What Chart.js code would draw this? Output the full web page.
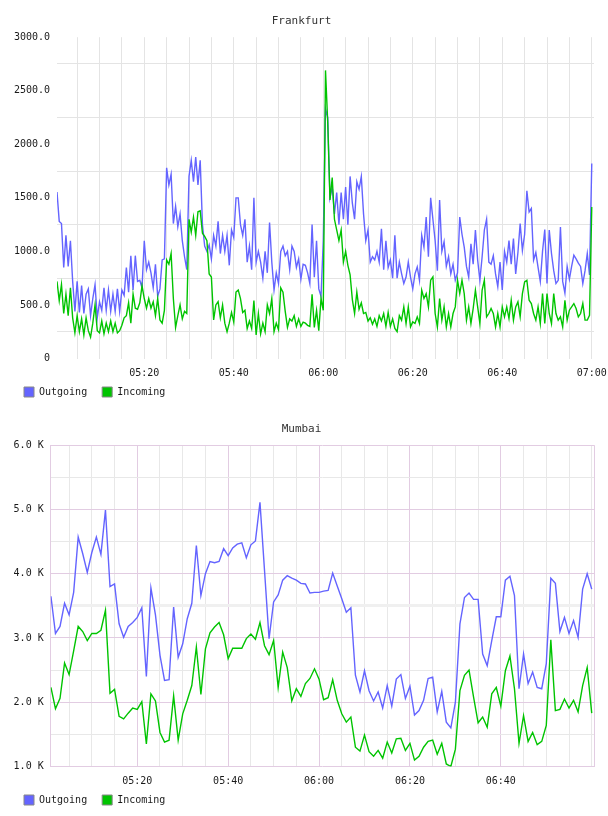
<!DOCTYPE html>
<html><head><meta charset="utf-8">
<script src="https://cdn.jsdelivr.net/npm/chart.js@4.4.1/dist/chart.umd.min.js"></script>
<style>html,body{margin:0;padding:0;background:#fff;width:608px;height:816px;overflow:hidden}canvas{display:block}</style>
</head><body>
<canvas id="c1" width="608" height="408"></canvas>
<canvas id="c2" width="608" height="408"></canvas>
<script>
// ---------------- Frankfurt (samples every 30 s from 05:00:30) ----------------
const frankfurtStart = '05:00:30';
const frankfurtStepSeconds = 30;
const frankfurtOutgoing = [
1555,1280,1260,850,1150,860,1100,720,440,720,430,680,420,600,650,400,560,690,380,530,
450,660,450,640,440,600,440,650,440,640,590,850,620,960,640,960,720,730,660,1100,
830,900,800,660,880,580,650,920,930,1780,1620,1720,1260,1420,1230,1350,1100,950,830,1700,
1850,1650,1880,1620,
1850,1250,1050,1000,1060,930,1150,1050,1280,980,1150,1000,1150,870,1200,1130,1500,1500,1250,1150,
1300,900,1050,830,1500,900,1000,900,750,1000,800,1270,900,640,800,700,1000,1050,960,1000,
830,1050,1000,850,930,740,880,870,800,700,1250,760,1100,650,580,1100,2330,2250,1500,1600,
1350,1550,1250,1550,1300,1600,1250,1700,1450,1300,1650,1580,1700,1350,1100,1200,900,950,920,1000,
900,1210,830,1100,850,920,750,1150,750,900,
793,700,760,900,760,650,790,855,730,1150,1040,1320,950,1500,1300,1100,820,1480,1000,1090,
860,950,790,880,730,800,1320,1160,1040,860,760,1070,880,1200,920,730,950,1200,1300,900,
880,960,790,670,900,640,1000,900,1100,880,1120,790,990,1260,1010,1160,1565,1368,1400,920,
990,850,720,1000,1204,700,1200,980,820,700,730,1228,720,610,860,740,860,964,930,890,
860,700,820,980,780,1820
];
const frankfurtIncoming = [
720,540,690,420,600,400,660,380,240,400,250,370,220,380,260,200,330,500,260,240,
350,230,330,250,350,250,330,240,260,310,380,400,520,330,600,470,460,520,680,560,
470,560,470,530,400,560,360,330,450,920,880,980,560,290,400,500,370,440,420,1300,
1180,1320,1150,1370,
1380,1170,1140,1100,790,760,360,500,530,380,500,330,250,330,430,340,620,640,560,430,
450,280,350,280,540,220,420,230,330,250,500,420,560,250,330,270,660,620,440,290,
370,350,400,300,370,300,340,330,310,300,600,290,450,260,560,450,2690,2200,1480,1690,
1300,1200,1100,1200,900,1000,870,780,550,420,620,460,520,420,430,350,380,320,370,300,
400,350,420,300,430,300,370,280,250,400,
358,482,327,482,295,342,327,389,327,638,560,606,482,731,762,420,295,560,358,482,
295,420,295,420,482,731,606,731,606,358,482,327,467,638,482,327,638,731,389,420,
467,420,295,420,295,482,389,482,373,544,358,482,529,389,606,715,731,544,513,420,
358,482,327,606,327,606,420,327,606,420,358,389,295,544,358,451,482,513,467,389,
420,513,358,358,404,1415
];
const frankfurtTimeLabels = ['05:20','05:40','06:00','06:20','06:40','07:00'];
const frankfurtYLabels = ['0','500.0','1000.0','1500.0','2000.0','2500.0','3000.0'];
const frankfurtYLabelValues = [0,500,1000,1500,2000,2500,3000];

// ---------------- Mumbai (samples every minute from 05:01) ----------------
const mumbaiStart = '05:01:00';
const mumbaiStepSeconds = 60;
const mumbaiOutgoing = [
3650,3070,3180,3540,3360,3710,4570,4310,4020,4330,4570,4300,4990,3800,3840,3220,3010,3180,3240,3320,
3470,2400,3780,3360,2730,2340,2350,3480,2700,2910,3300,3540,4440,
3660,4000,4190,4170,4190,4390,4280,4400,4460,4480,4250,4450,4510,5110,4050,2990,3560,3670,3900,3970,
3930,3900,3850,3840,3700,3710,3710,3730,3740,4010,3810,3610,3400,3470,2420,2160,2490,2180,2020,2160,
1910,2260,1940,2360,
2430,2060,2250,1800,1870,2030,2370,2390,1850,2170,1690,1600,2000,3220,3630,3700,3600,3600,2750,2570,
2960,3330,3330,3900,3960,3660,2210,2750,2290,2470,2230,2210,2600,3930,3850,3100,3320,3070,3270,3010,
3760,4000,3760
];
const mumbaiIncoming = [
2230,1900,2060,2610,2430,2800,3180,3100,2960,3070,3070,3120,3430,2140,2200,1780,1740,1830,1910,1890,
2010,1350,2130,2020,1530,1380,1410,2100,1410,1820,2030,2260,2860,
2120,2830,3080,3170,3240,3050,2680,2840,2840,2840,2990,3060,2980,3240,2880,2740,2960,2230,2780,2540,
2020,2210,2090,2290,2370,2520,2360,2040,2070,2350,2030,1820,1690,1770,1300,1240,1490,1230,1160,1250,
1130,1380,1210,1430,
1440,1250,1360,1100,1160,1300,1390,1410,1190,1360,1040,1000,1270,2180,2420,2500,2080,1680,1770,1610,
2130,2230,1940,2490,2720,2210,1360,1790,1390,1530,1340,1390,1640,2970,1870,1890,2050,1910,2030,1850,
2260,2540,1830
];
const mumbaiTimeLabels = ['05:20','05:40','06:00','06:20','06:40'];
const mumbaiYLabels = ['1.0 K','2.0 K','3.0 K','4.0 K','5.0 K','6.0 K'];
const mumbaiYLabelValues = [1000,2000,3000,4000,5000,6000];

// ---------------- helpers ----------------
const FONT = "'DejaVu Sans Mono', monospace";
const BLUE = '#6464ff', GREEN = '#00c400', TEXT = '#1a1a1a';
function toMin(s){const p=s.split(':').map(Number);return (p[0]-5)*60+p[1]+(p[2]||0)/60;}
function fmt(v){const t=Math.round(v);return String(5+Math.floor(t/60)).padStart(2,'0')+':'+String(t%60).padStart(2,'0');}
function times(start, stepSec, n){const s=toMin(start);return Array.from({length:n},(_,i)=>s+i*stepSec/60);}

function buildChart(id, o){
  const labelMin = new Set(o.timeLabels.map(toMin));
  const yMap = new Map(o.yLabelValues.map((v,i)=>[v,o.yLabels[i]]));
  const gridMin = [];
  for (let m = Math.ceil(o.xMin/5)*5; m <= o.xMax; m += 5) gridMin.push(m);
  if (o.edgeLine) gridMin.push(o.xMax);
  const yTicks = [];
  for (let v = o.yMin; v <= o.yMax; v += o.yStep) yTicks.push(v);
  const t = times(o.start, o.step, o.outgoing.length);
  return new Chart(document.getElementById(id), {
    type: 'line',
    data: { datasets: [
      { label: 'Outgoing', data: t.map((x,i)=>({x, y:o.outgoing[i]})), borderColor: BLUE, backgroundColor: BLUE, order: 1 },
      { label: 'Incoming', data: t.map((x,i)=>({x, y:o.incoming[i]})), borderColor: GREEN, backgroundColor: GREEN, order: 0 }
    ]},
    options: {
      responsive: false, animation: false, devicePixelRatio: 1,
      elements: { point: { radius: 0 }, line: { borderWidth: 1.4, tension: 0 } },
      layout: { padding: { left: 9, right: 14, top: 0, bottom: 1 } },
      plugins: {
        tooltip: { enabled: false },
        title: { display: true, text: o.title, color: '#333', font: { family: FONT, size: 11, weight: 'normal' }, padding: { top: 15, bottom: 9 } },
        legend: { position: 'bottom', align: 'start',
          labels: { boxWidth: 10, boxHeight: 10, padding: 15, color: TEXT, font: { family: FONT, size: 10 },
            generateLabels: ch => ch.data.datasets.map((d,i)=>({ text: d.label, fillStyle: d.borderColor, strokeStyle: '#888', lineWidth: 1, hidden: false, datasetIndex: i, fontColor: TEXT })) } }
      },
      scales: {
        x: { type: 'linear', min: o.xMin, max: o.xMax,
          afterBuildTicks: s => { s.ticks = gridMin.map(v=>({value:v})); },
          afterFit: s => { s.height = 13.5; s.paddingLeft = 0; s.paddingRight = 0; s._computeLabelArea = () => null; },
          ticks: { autoSkip: false, maxRotation: 0, padding: 9, color: TEXT, font: { family: FONT, size: 10 },
            callback: v => labelMin.has(v) ? fmt(v) : '' },
          grid: { drawTicks: false, color: c => o.xGridColor(c.tick.value, labelMin.has(c.tick.value)) },
          border: { display: false } },
        y: { type: 'linear', min: o.yMin, max: o.yMax,
          afterBuildTicks: s => { s.ticks = yTicks.map(v=>({value:v})); },
          afterFit: s => { s.width = o.yAxisWidth; },
          ticks: { padding: 7, color: TEXT, font: { family: FONT, size: 10 }, callback: v => yMap.has(v) ? yMap.get(v) : '' },
          grid: { drawTicks: false, color: c => o.yGridColor(c.tick.value, yMap.has(c.tick.value)),
                  lineWidth: c => o.yGridWidth ? o.yGridWidth(c.tick.value) : 1 },
          border: o.yBorder }
      }
    }
  });
}

buildChart('c1', {
  title: 'Frankfurt', start: frankfurtStart, step: frankfurtStepSeconds,
  outgoing: frankfurtOutgoing, incoming: frankfurtIncoming,
  timeLabels: frankfurtTimeLabels, yLabels: frankfurtYLabels, yLabelValues: frankfurtYLabelValues,
  xMin: 0.5, xMax: 120.5, yMin: 0, yMax: 3000, yStep: 250, yAxisWidth: 48, edgeLine: false,
  xGridColor: () => '#e4e4e4',
  yGridColor: (v, labeled) => labeled ? 'rgba(0,0,0,0)' : '#e4e4e4',
  yBorder: { display: false }
});

const PURPLE = '#e2cce2';
buildChart('c2', {
  title: 'Mumbai', start: mumbaiStart, step: mumbaiStepSeconds,
  outgoing: mumbaiOutgoing, incoming: mumbaiIncoming,
  timeLabels: mumbaiTimeLabels, yLabels: mumbaiYLabels, yLabelValues: mumbaiYLabelValues,
  xMin: 0.95, xMax: 120.5, yMin: 1000, yMax: 6000, yStep: 500, yAxisWidth: 41.7, edgeLine: true,
  xGridColor: (v, labeled) => (labeled || v === 120.5) ? PURPLE : '#e8e8e8',
  yGridColor: (v, labeled) => labeled ? PURPLE : (v === 3500 ? '#f0f0f0' : '#e8e8e8'),
  yGridWidth: v => v === 3500 ? 3 : 1,
  yBorder: { display: true, color: PURPLE, width: 1 }
});
</script>
</body></html>
